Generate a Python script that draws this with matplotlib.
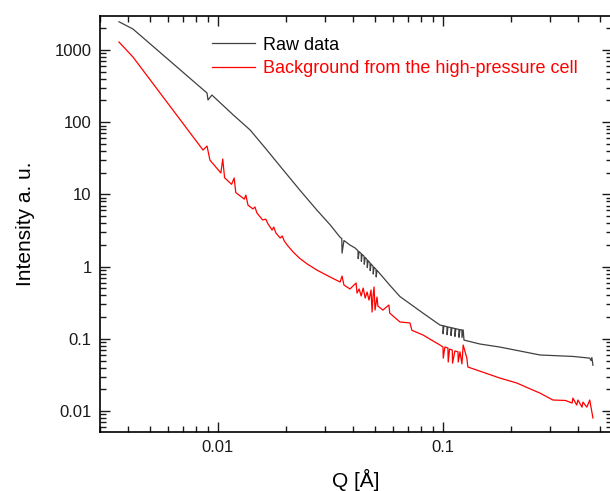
import matplotlib.pyplot as plt
from matplotlib.ticker import FixedLocator, FixedFormatter, LogLocator, NullFormatter

plt.rcParams["font.family"] = ["Liberation Sans", "DejaVu Sans"]

# Raw data (black)
raw_q = [0.00363, 0.00419, 0.00832, 0.00894, 0.00903, 0.00940, 0.0117, 0.0139,
         0.0165, 0.0195, 0.0231, 0.0275, 0.0315, 0.0349, 0.0355, 0.0356,
         0.0363, 0.0386, 0.0407,
         0.0419, 0.0420, 0.0424, 0.0433, 0.0434, 0.0437, 0.0446, 0.0447,
         0.0451, 0.0460, 0.0461, 0.0465, 0.0474, 0.0475, 0.0479, 0.0489,
         0.0490, 0.0494, 0.0504, 0.0505, 0.0509,
         0.0581, 0.0644, 0.0815, 0.0970,
         0.1000, 0.1001, 0.1010, 0.1042, 0.1043, 0.1052, 0.1085, 0.1086,
         0.1096, 0.1130, 0.1131, 0.1141, 0.1177, 0.1178, 0.1190, 0.1214,
         0.1215, 0.1230, 0.1240, 0.146, 0.179, 0.270, 0.378, 0.449,
         0.455, 0.459, 0.464]
raw_i = [2465, 1954, 308, 254, 203, 238, 126, 78.0,
         41.2, 21.8, 11.5, 6.08, 3.8, 2.55, 2.45, 1.54,
         2.30, 1.99, 1.81,
         1.66, 1.29, 1.61, 1.52, 1.18, 1.48, 1.39, 1.08,
         1.34, 1.25, 0.97, 1.21, 1.13, 0.88, 1.09, 1.01,
         0.79, 0.98, 0.92, 0.72, 0.89,
         0.55, 0.385, 0.227, 0.155,
         0.152, 0.118, 0.151, 0.147, 0.114, 0.146, 0.143, 0.111,
         0.142, 0.139, 0.108, 0.138, 0.135, 0.105, 0.134, 0.133,
         0.104, 0.133, 0.096, 0.0847, 0.0769, 0.0597, 0.057, 0.054,
         0.050, 0.055, 0.043]

# Background from the high-pressure cell (red)
bg_q = [0.00363, 0.00419, 0.00858, 0.00894, 0.00921, 0.0103, 0.0105, 0.0107,
        0.0115, 0.0118, 0.0120, 0.0131, 0.0133, 0.0136, 0.0143, 0.0146,
        0.0149, 0.0158, 0.0163, 0.0167, 0.0174, 0.0177, 0.0181, 0.0189,
        0.0193, 0.0197, 0.0203, 0.0216, 0.0231, 0.0249, 0.0275, 0.0315,
        0.0349, 0.0356, 0.0363, 0.0386, 0.0411, 0.0415, 0.0424, 0.0433,
        0.0442, 0.0451, 0.0460, 0.0469, 0.0479, 0.0484, 0.0489, 0.0494,
        0.0499, 0.0509, 0.0514, 0.0541, 0.0575, 0.0580, 0.0644, 0.0713,
        0.0728, 0.0815, 0.0904, 0.0970,
        0.1000, 0.1003, 0.1020, 0.1052, 0.1055, 0.1070, 0.1100, 0.1103,
        0.1130, 0.1166, 0.1169, 0.1190, 0.1214, 0.1230, 0.1277, 0.1290,
        0.179, 0.213, 0.251, 0.270, 0.308, 0.350, 0.375, 0.378,
        0.393, 0.398, 0.415, 0.419, 0.436, 0.449, 0.459, 0.464]
bg_i = [1291, 800, 41.2, 46.8, 29.9, 19.8, 30.9, 17.0,
        13.8, 16.9, 10.6, 8.6, 9.8, 7.1, 6.3, 6.7,
        5.53, 4.42, 4.55, 3.89, 3.21, 3.53, 2.92, 2.49,
        2.66, 2.27, 1.99, 1.59, 1.30, 1.09, 0.897, 0.718,
        0.612, 0.74, 0.556, 0.49, 0.593, 0.430, 0.490, 0.392,
        0.505, 0.367, 0.445, 0.344, 0.474, 0.235, 0.392, 0.522,
        0.250, 0.379, 0.284, 0.250, 0.294, 0.227, 0.171, 0.166,
        0.131, 0.113, 0.0933, 0.0820,
        0.0769, 0.054, 0.0769, 0.0746, 0.0477, 0.072, 0.070, 0.046,
        0.068, 0.066, 0.0477, 0.066, 0.045, 0.082, 0.054, 0.0407,
        0.0286, 0.0244, 0.0195, 0.0177, 0.0142, 0.0140, 0.0129, 0.0151,
        0.0121, 0.0142, 0.0113, 0.0133, 0.0113, 0.0142, 0.0097, 0.0080]

y_ticks = [0.01, 0.1, 1, 10, 100, 1000]
y_labels = ["0.01", "0.1", "1", "10", "100", "1000"]
x_ticks = [0.01, 0.1]
x_labels = ["0.01", "0.1"]

fig = plt.figure(figsize=(6.1, 4.91), dpi=100)
ax = fig.add_axes([100 / 610, 59 / 491, 512 / 610, 416 / 491])

ax.plot(raw_q, raw_i, color="#404040", lw=0.9, label="Raw data")
ax.plot(bg_q, bg_i, color="#ff0000", lw=0.9, label="Background from the high-pressure cell")

ax.set_xscale("log")
ax.set_yscale("log")
ax.set_xlim(0.00299, 0.564)
ax.set_ylim(0.00512, 2960)

ax.xaxis.set_major_locator(FixedLocator(x_ticks))
ax.xaxis.set_major_formatter(FixedFormatter(x_labels))
ax.yaxis.set_major_locator(FixedLocator(y_ticks))
ax.yaxis.set_major_formatter(FixedFormatter(y_labels))
for axis in (ax.xaxis, ax.yaxis):
    axis.set_minor_locator(LogLocator(base=10, subs=range(2, 10)))
    axis.set_minor_formatter(NullFormatter())

ax.tick_params(which="both", direction="in", top=True, right=True,
               width=1.0, labelsize=12, colors="#1a1a1a")
ax.tick_params(which="major", length=7, pad=6)
ax.tick_params(which="minor", length=4)
for s in ax.spines.values():
    s.set_linewidth(1.2)

ax.set_xlabel("Q [Å]", fontsize=15, labelpad=10)
ax.set_ylabel("Intensity a. u.", fontsize=15, labelpad=14)

leg = ax.legend(loc="upper left", bbox_to_anchor=(0.219, 0.95), frameon=False,
                fontsize=13, handlelength=2.4, handletextpad=0.4,
                labelspacing=0.37, borderpad=0, borderaxespad=0)
leg.get_texts()[0].set_color("black")
leg.get_texts()[1].set_color("#ff0000")

fig.savefig("out.png", dpi=100)
